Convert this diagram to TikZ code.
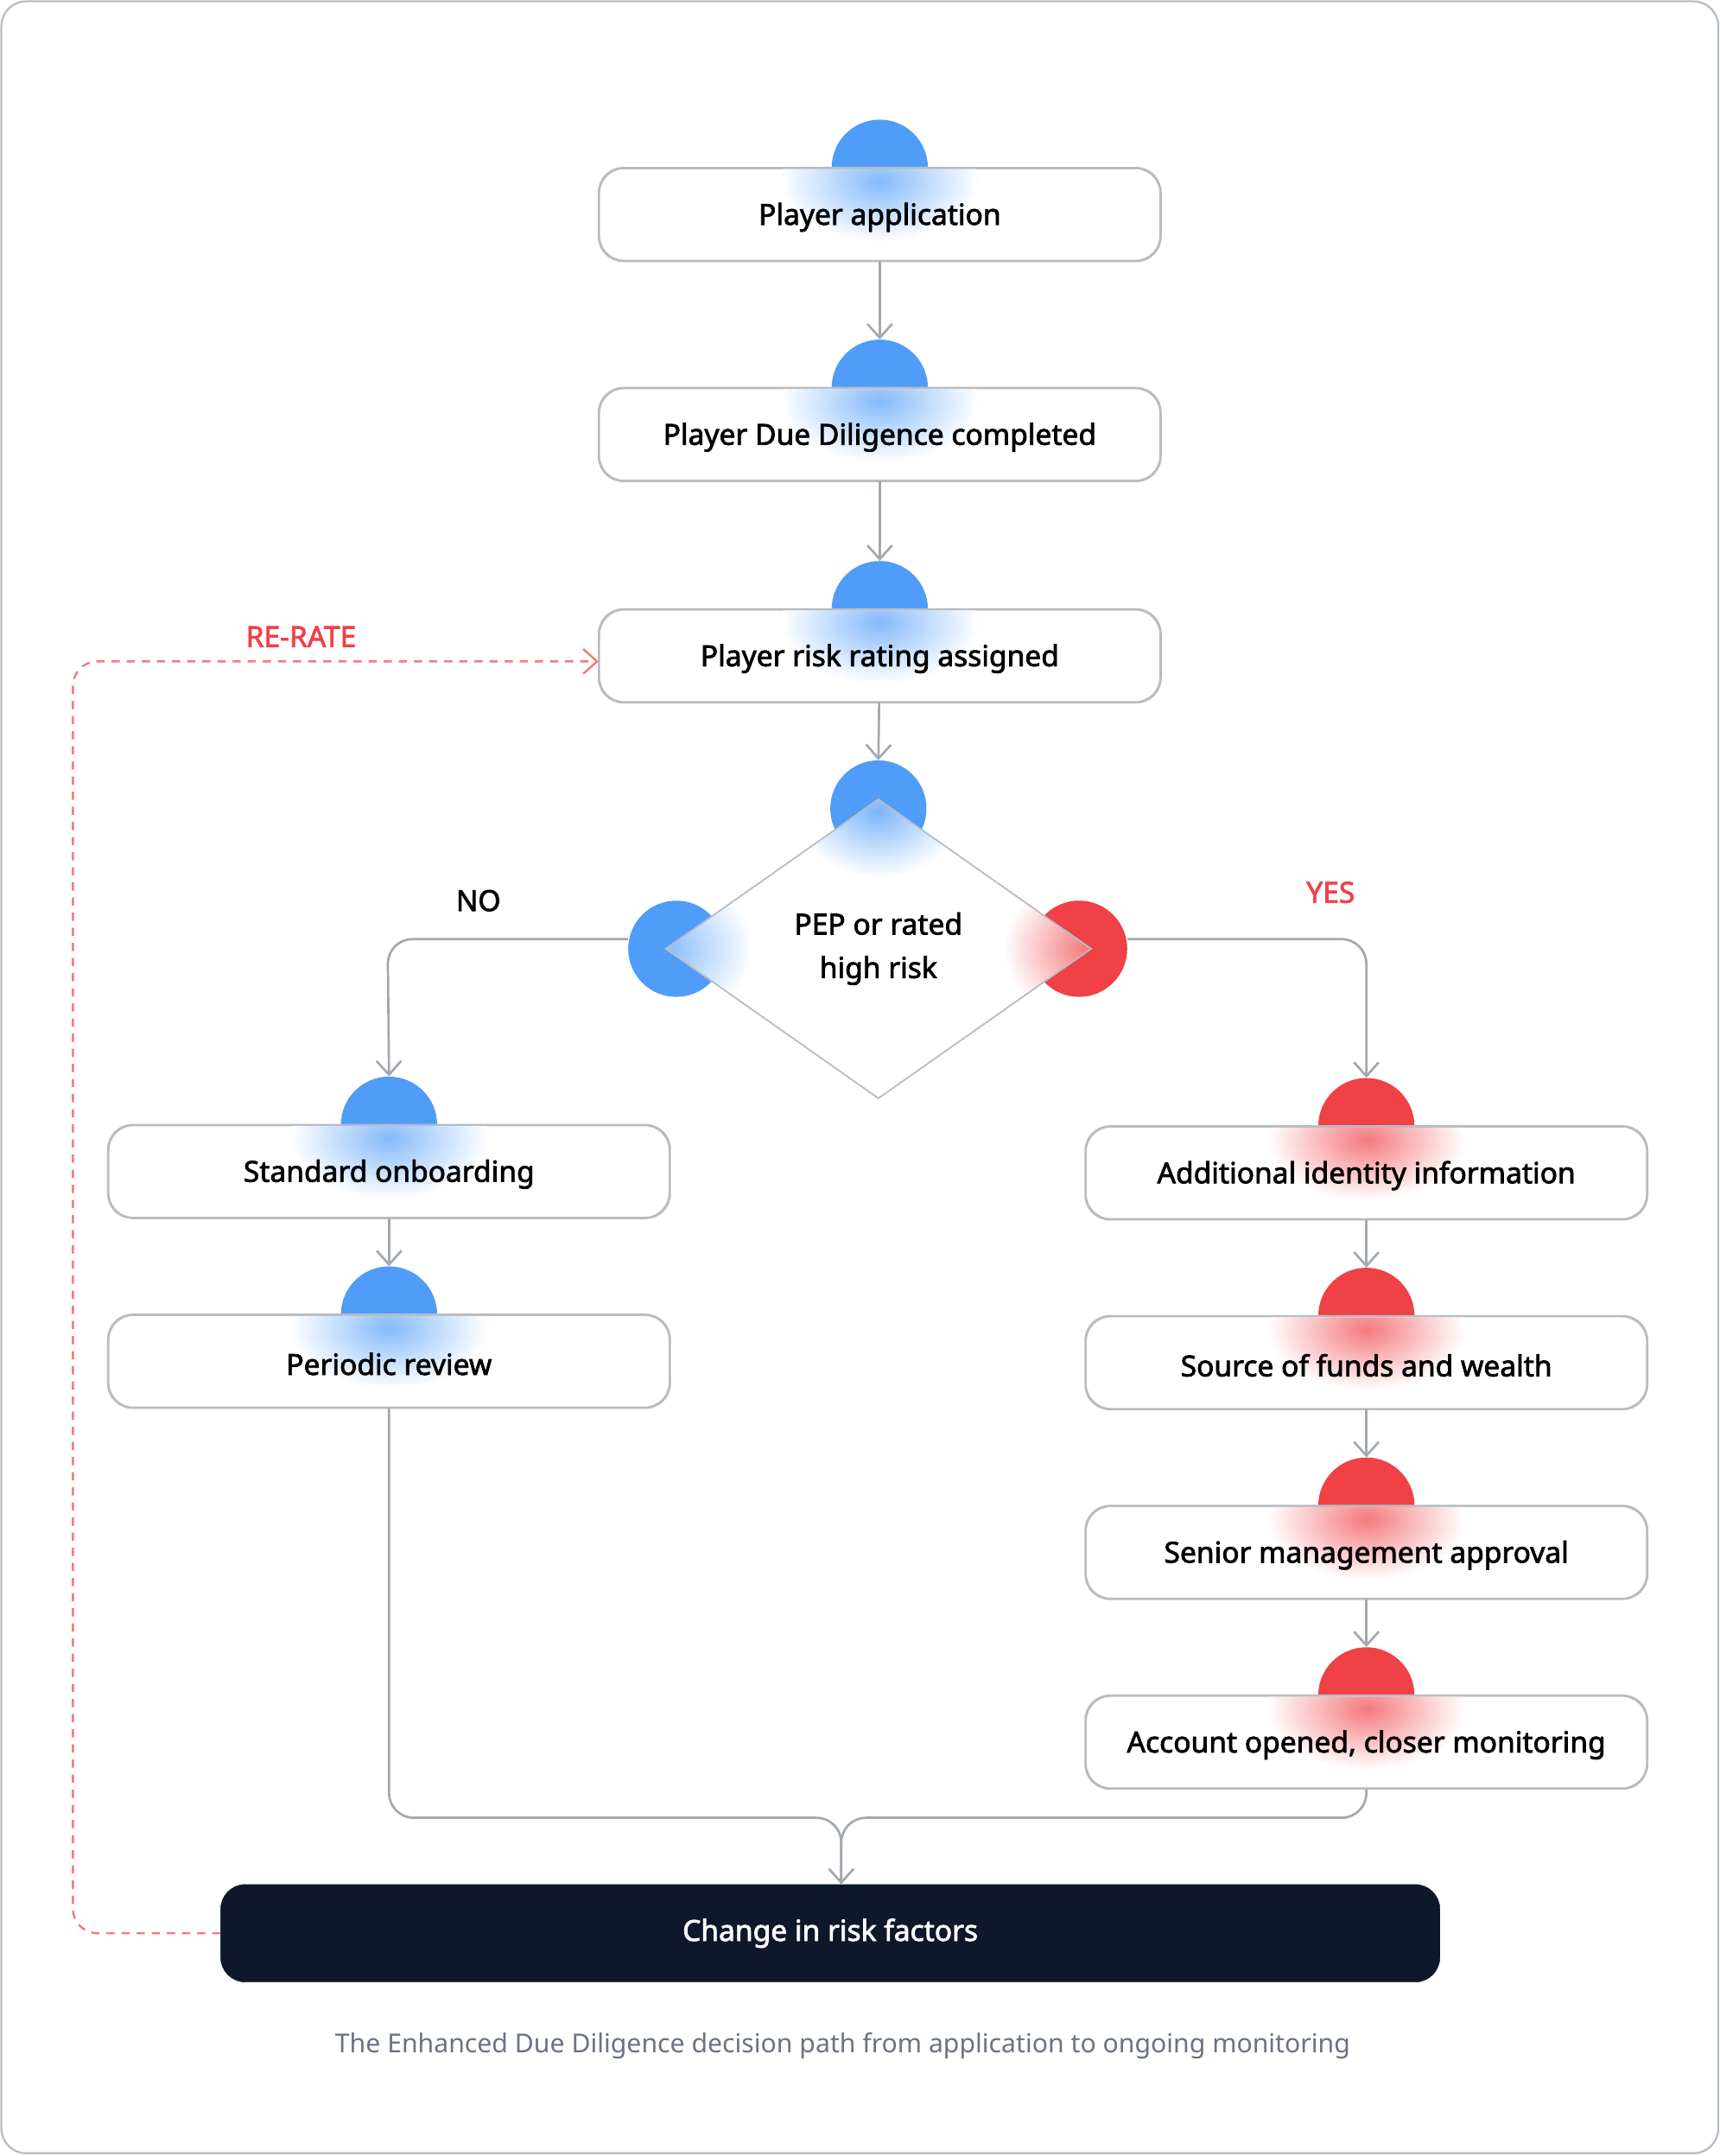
\documentclass[tikz,border=0pt]{standalone}
\usepackage{fontspec}
\setmainfont{Noto Sans}
\newfontfamily\medfont{Noto Sans}[FakeBold=2.2]
\usetikzlibrary{shapes.geometric,arrows.meta}
\definecolor{bl}{HTML}{4F9CF9}
\definecolor{rd}{HTML}{EF4146}
\definecolor{ln}{HTML}{A3A8B0}
\definecolor{bd}{HTML}{B8BCC2}
\definecolor{dk}{HTML}{0F172A}
\definecolor{cap}{HTML}{6B7280}
\newcommand{\stepbox}[5]{%name, x, y, color, text
  \node[blob,fill=#4] (#1b) at (#2,#3-34) {};
  \node[box] (#1) at (#2,#3) {};
  \begin{scope}
    \clip[rounded corners=0.9cm] (#2-203,#3-33) rectangle (#2+203,#3+33);
    \shade[inner color=#4!70,outer color=white] (#2,#3-24) ellipse (3.6cm and 2.2cm);
  \end{scope}
  \draw[bd,line width=1.6pt,rounded corners=0.9cm] (#1.south west) rectangle (#1.north east);
  \node[txt] (#1t) at (#2,#3+2) {#5};
}
\begin{document}
\begin{tikzpicture}[x=0.05cm,y=-0.05cm,
 box/.style={draw=bd,line width=1.6pt,rounded corners=0.9cm,fill=white,minimum width=20.4cm,minimum height=3.35cm},
 txt/.style={font=\medfont\fontsize{30}{36}\selectfont,text=black},
 blob/.style={circle,minimum size=3.5cm,inner sep=0pt},
 con/.style={draw=ln,line width=2.4pt,-{Straight Barb[length=0.5cm,width=0.9cm,line width=2.4pt]}},
 lab/.style={font=\medfont\fontsize{30}{36}\selectfont}]
\draw[bd,line width=2pt,rounded corners=0.9cm,fill=white] (1,1) rectangle (1250,1566);
\useasboundingbox (0,0) rectangle (1251,1568);
\stepbox{pa}{640}{156}{bl}{Player application}
\stepbox{pd}{640}{316}{bl}{Player Due Diligence completed}
\stepbox{pr}{640}{477}{bl}{Player risk rating assigned}
% diamond
\node[blob,fill=bl] (dtb) at (639,588) {};
\node[blob,fill=bl] (dlb) at (492,690) {};
\node[blob,fill=rd] (drb) at (785,690) {};
\fill[white] (639,582) -- (794,690) -- (639,800) -- (484,690) -- cycle;
\begin{scope}
 \clip (639,582) -- (794,690) -- (639,800) -- (484,690) -- cycle;
 \shade[inner color=bl!75,outer color=white] (639,590) ellipse (3cm and 2.4cm);
 \shade[inner color=bl!65,outer color=white] (488,690) ellipse (3cm and 2.6cm);
 \shade[inner color=rd!70,outer color=white] (790,690) ellipse (3cm and 2.6cm);
\end{scope}
\node[diamond,draw=bd,line width=1.6pt,minimum width=15.5cm,minimum height=10.9cm,inner sep=0pt,align=center,font=\medfont\fontsize{30}{45}\selectfont] (d) at (639,690) {PEP or rated\\high risk};
\stepbox{so}{283}{852}{bl}{Standard onboarding}
\stepbox{pe}{283}{990}{bl}{Periodic review}
\stepbox{ai}{994}{853}{rd}{Additional identity information}
\stepbox{sf}{994}{991}{rd}{Source of funds and wealth}
\stepbox{sm}{994}{1129}{rd}{Senior management approval}
\stepbox{ao}{994}{1267}{rd}{Account opened, closer monitoring}
\node[draw=dk,fill=dk,rounded corners=0.9cm,minimum width=44.35cm,minimum height=3.55cm,text=white,font=\medfont\fontsize{30}{36}\selectfont] (ch) at (604,1406) {Change in risk factors};
\node[font=\fontsize{27}{32}\selectfont,text=cap] (cp) at (613,1488) {The Enhanced Due Diligence decision path from application to ongoing monitoring};
% connectors
\draw[con] (pa) -- (pdb.north);
\draw[con] (pd) -- (prb.north);
\draw[con] (pr) -- (dtb.north);
\draw[con,rounded corners=0.9cm] (dlb.west |- 0,683) -- (282,683) -- (sob.north);
\draw[con,rounded corners=0.9cm] (drb.east |- 0,683) -- (994,683) -- (aib.north);
\draw[con] (so) -- (peb.north);
\draw[con] (ai) -- (sfb.north);
\draw[con] (sf) -- (smb.north);
\draw[con] (sm) -- (aob.north);
\coordinate (m) at (612,1322);
\draw[ln,line width=2.4pt,rounded corners=0.9cm] (pe.south) |- (m) -- (ch.north -| m);
\draw[con,rounded corners=0.9cm] (ao.south) |- (m) -- (ch.north -| m);
\draw[rd!70,line width=2.2pt,dash pattern=on 0.3cm off 0.25cm,rounded corners=0.9cm,-{Straight Barb[length=0.5cm,width=0.9cm,line width=2.2pt]}] (ch.west) -| (53,481) -- (pr.west |- 0,481);
\node[lab,text=rd] (rr) at (219,463) {RE-RATE};
\node[lab] (no) at (348,655) {NO};
\node[lab,text=rd] (ys) at (968,649) {YES};
\end{tikzpicture}
\end{document}
